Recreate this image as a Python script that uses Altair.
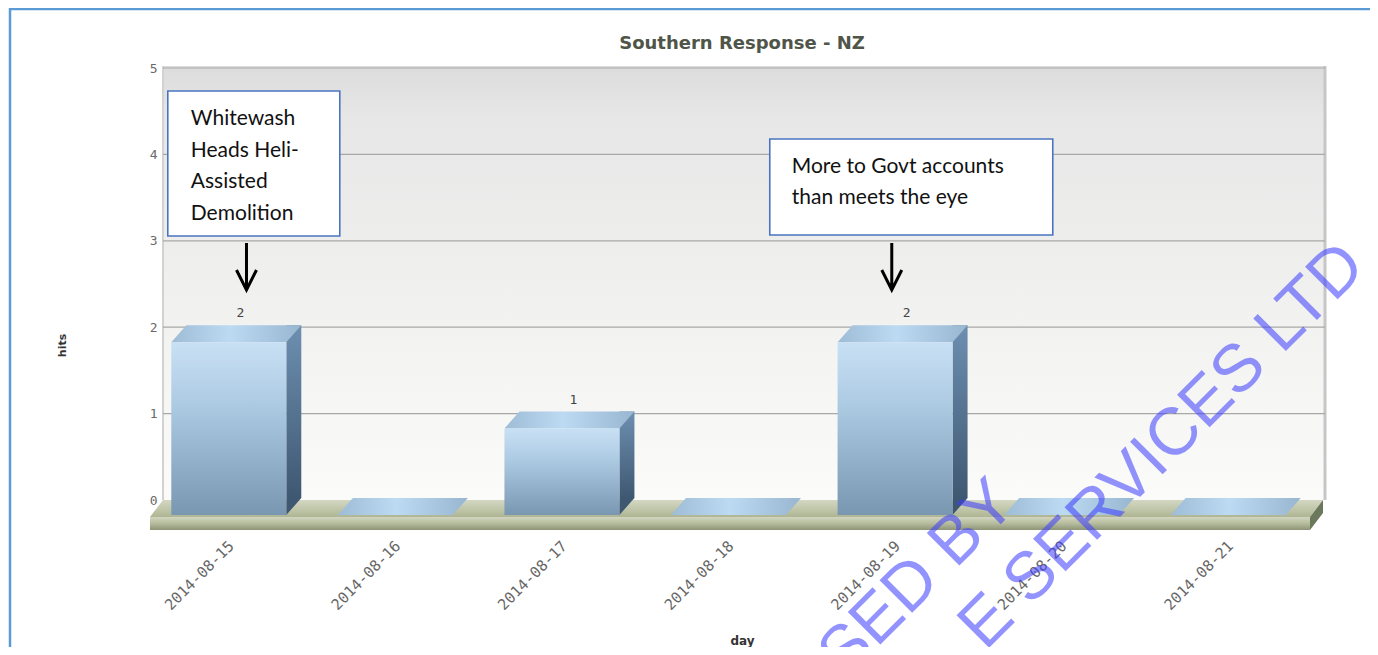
import altair as alt
import pandas as pd

# ---------------- data ----------------
days = ["2014-08-15", "2014-08-16", "2014-08-17", "2014-08-18",
        "2014-08-19", "2014-08-20", "2014-08-21"]
hits = [2, 0, 1, 0, 2, 0, 0]
y_ticks = [0, 1, 2, 3, 4, 5]
grid_values = [1, 2, 3, 4, 5]
title_text = "Southern Response - NZ"
x_title = "day"
y_title = "hits"
ann_days = ["2014-08-15", "2014-08-19"]
ann_lines = [["Whitewash", "Heads Heli-", "Assisted", "Demolition"],
             ["More to Govt accounts", "than meets the eye"]]
watermark_lines = ["SED BY", "E SERVICES LTD"]

df = pd.DataFrame({"day": days, "hits": hits})
df["label"] = [str(v) for v in hits]

W, H = 1166, 432
one = alt.InlineData(values=[{"k": 1}])


def grad(stops, horizontal=False):
    return alt.LinearGradient(
        gradient="linear",
        stops=[alt.GradientStop(color=c, offset=o) for o, c in stops],
        x1=0, y1=0, x2=1 if horizontal else 0, y2=0 if horizontal else 1)


LABEL_FONT = "DejaVu Sans Mono"
xs = alt.Scale(domain=days, paddingInner=0, paddingOuter=0)
ys = alt.Scale(domain=[0, 5], nice=False, zero=True)

x_axis = alt.Axis(title=x_title, labelAngle=315, labelAlign="right",
                  labelBaseline="middle", labelPadding=43, labelOffset=-5,
                  ticks=False, tickSize=0, domain=False, grid=False,
                  labelOverlap=False, labelFont=LABEL_FONT, labelFontSize=15,
                  labelColor="#666666",
                  titleFont="DejaVu Sans", titleFontSize=12, titleFontWeight="bold",
                  titleColor="#333333", titleX=589, titleY=144,
                  titleAlign="center", titleBaseline="alphabetic")
y_axis = alt.Axis(values=y_ticks, format="d", title=y_title, grid=False, domain=False,
                  ticks=False, tickSize=0, labelPadding=-4,
                  labelFont=LABEL_FONT, labelFontSize=13, labelColor="#6a6a6a",
                  titleFont="DejaVu Sans", titleFontSize=11, titleFontWeight="bold",
                  titleColor="#333333", titleX=-91, titleY=277, titleAngle=270,
                  titleAlign="center", titleBaseline="middle")

x_enc = alt.X("day:N", scale=xs, sort=days, axis=x_axis, title=x_title)
y_enc = alt.Y("hits:Q", scale=ys, axis=y_axis, title=y_title)

# ---------------- background wall ----------------
wall = alt.Chart(one).mark_rect(
    fill=grad([(0, "#dcdcdc"), (0.12, "#e7e7e7"), (0.6, "#f2f2f1"), (1, "#fbfbfa")]),
    strokeWidth=0,
).encode(x=alt.value(10), x2=alt.value(1172), y=alt.value(-2), y2=alt.value(H))

wall_left = alt.Chart(one).mark_rule(color="#d2d2d2", strokeWidth=2).encode(
    x=alt.value(10), y=alt.value(-2), y2=alt.value(H))
wall_right = alt.Chart(one).mark_rule(color="#c6c6c6", strokeWidth=3).encode(
    x=alt.value(1172), y=alt.value(-2), y2=alt.value(H))

grid = alt.Chart(pd.DataFrame({"hits": grid_values})).mark_rule(
    color="#a8a8a8", strokeWidth=1.2
).encode(y=y_enc, x=alt.value(10), x2=alt.value(1172))

# ---------------- floor ----------------
floor_top = alt.Chart(one).mark_point(
    shape="M-3,17 L1157,17 L1170,0 L10,0 Z", size=4, filled=True, opacity=1, strokeWidth=0,
    fill=grad([(0, "#d3d7c3"), (0.6, "#bec4a6"), (1, "#aeb594")]),
).encode(x=alt.value(0), y=alt.value(H))
floor_front = alt.Chart(one).mark_point(
    shape="M-3,17 L1157,17 L1157,30 L-3,30 Z", size=4, filled=True, opacity=1, strokeWidth=0,
    fill=grad([(0, "#d2d6c0"), (0.5, "#b5bb9c"), (1, "#8e9577")]),
).encode(x=alt.value(0), y=alt.value(H))
floor_side = alt.Chart(one).mark_point(
    shape="M1157,17 L1170,0 L1170,13 L1157,30 Z", size=4, filled=True, opacity=1, strokeWidth=0,
    fill="#6c785b",
).encode(x=alt.value(0), y=alt.value(H))

# ---------------- 3D bars ----------------
side = alt.Chart(df).mark_bar(
    width=15, xOffset=57.5, yOffset=-2, y2Offset=-2, strokeWidth=0,
    fill=grad([(0, "#6d8fb0"), (1, "#3f5872")]),
).encode(x=x_enc, y=y_enc, y2=alt.datum(0))

side_tri = alt.Chart(df).transform_filter("datum.hits > 0").mark_point(
    shape="M50,-2 L50,15 L65,-2 Z", size=4, filled=True, opacity=1, strokeWidth=0,
    fill="#3f5872",
).encode(x=x_enc, y=alt.datum(0))

top = alt.Chart(df).mark_point(
    shape="M-65,15 L50,15 L65,-2 L-50,-2 Z", size=4, filled=True, opacity=1, strokeWidth=0,
    fill=grad([(0, "#9fbcd6"), (0.45, "#bcdaf2"), (1, "#98b6d0")], horizontal=True),
).encode(x=x_enc, y=y_enc)

front = alt.Chart(df).mark_bar(
    width=115, xOffset=-7.5, yOffset=15, y2Offset=15, strokeWidth=0,
    fill=grad([(0, "#c8e0f4"), (0.35, "#aecbe4"), (1, "#7a97b2")]),
).encode(x=x_enc, y=y_enc, y2=alt.datum(0))

values_text = alt.Chart(df).transform_filter("datum.hits > 0").mark_text(
    font=LABEL_FONT, fontSize=13, color="#444444", dx=4, dy=-14, baseline="middle",
).encode(x=x_enc, y=y_enc, text="label:N")

# ---------------- annotations ----------------
ann_geom = [
    dict(bw=172, bx=17.5, y1=23, y2=168, tx=-45.5, ty=57, lh=31.7, ax=10.2),
    dict(bw=283, bx=8.7, y1=71, y2=167, tx=-110.8, ty=105, lh=30.5, ax=-10.8),
]
ann_layers = []
for d, lines, g in zip(ann_days, ann_lines, ann_geom):
    adf = pd.DataFrame({"day": [d], "txt": ["\n".join(lines)]})
    box = alt.Chart(adf).mark_bar(
        width=g["bw"], xOffset=g["bx"], fill="white", stroke="#4a74c0", strokeWidth=1.6,
    ).encode(x=x_enc, y=alt.value(g["y1"]), y2=alt.value(g["y2"]))
    txt = alt.Chart(adf).mark_text(
        align="left", baseline="alphabetic", lineBreak="\n", lineHeight=g["lh"],
        font="Lato", fontSize=21, color="#111111", xOffset=g["tx"],
    ).encode(x=x_enc, y=alt.value(g["ty"]), text="txt:N")
    arrow = alt.Chart(adf).mark_point(
        shape="M0,-47 L0,-1 M-10,-20 L0,0 L10,-20", size=4, filled=False, opacity=1,
        stroke="black", strokeWidth=3, xOffset=g["ax"],
    ).encode(x=x_enc, y=alt.value(222))
    ann_layers += [box, txt, arrow]

# ---------------- title ----------------
title = alt.Chart(one).mark_text(
    text=title_text, font="DejaVu Sans", fontWeight="bold", fontSize=18,
    color="#4f5548", align="center", baseline="alphabetic",
).encode(x=alt.value(589), y=alt.value(-19))

# ---------------- watermark ----------------
wm_spec = [("left", 692, 612), ("right", 1215, 201)]
wm_layers = []
for t, (al, wx, wy) in zip(watermark_lines, wm_spec):
    wm_layers.append(alt.Chart(one).mark_text(
        text=t, angle=315, align=al, baseline="alphabetic", font="Liberation Sans",
        fontSize=67, fill="#3c3cff", opacity=0.55,
    ).encode(x=alt.value(wx), y=alt.value(wy)))

# ---------------- outer border ----------------
border = alt.Chart(one).mark_rect(
    fillOpacity=0, stroke="#5b9bd5", strokeWidth=2.5,
).encode(x=alt.value(-143), x2=alt.value(1219), y=alt.value(-59), y2=alt.value(700))

chart = alt.layer(
    wall, wall_left, wall_right, grid, floor_top, floor_front, floor_side,
    side, side_tri, top, front, values_text, *ann_layers, title, *wm_layers, border,
).properties(
    width=W, height=H,
    padding={"left": 145, "top": 60, "right": 51, "bottom": 147},
    autosize=alt.AutoSizeParams(type="none"),
    background="white",
).configure_view(strokeWidth=0)

chart.save("out.html", embed_options={"renderer": "svg", "actions": False})
